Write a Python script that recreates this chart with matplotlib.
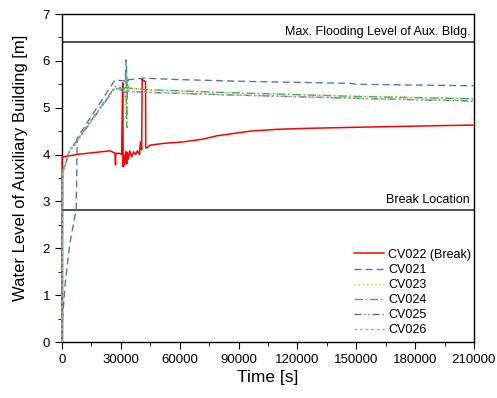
import matplotlib
matplotlib.use("Agg")
import matplotlib.pyplot as plt
from matplotlib.ticker import MultipleLocator

plt.rcParams['font.family'] = ['Liberation Sans', 'DejaVu Sans']

# ---- data ----
t_cv022 = [0, 100, 3000, 9000, 24500, 27000, 27300, 27400, 28500, 30400, 30900, 31000,
           31200, 31400, 32000, 32500, 33000, 33300, 33800, 34500, 35500, 36500, 37500,
           38500, 39500, 40000, 40600, 40900, 41000, 42600, 42700, 43800, 44800, 52000,
           61700, 71900, 78900, 95800, 110000, 125000, 147000, 171000, 196000, 210000]
v_cv022 = [0, 3.95, 3.97, 4.01, 4.08, 4.03, 3.78, 4.02, 4.03, 4.01, 5.53, 5.53,
           3.74, 4.0, 3.78, 4.07, 3.8, 4.05, 3.9, 4.08, 3.95, 4.06, 4.0,
           4.08, 4.0, 4.27, 4.1, 5.63, 5.6, 5.55, 4.14, 4.16, 4.2, 4.24,
           4.27, 4.33, 4.40, 4.50, 4.54, 4.56, 4.58, 4.60, 4.62, 4.63]

t_cv021 = [0, 300, 1500, 4000, 7200, 7500, 7700, 27000, 32200, 32700, 33200, 34000,
           42000, 60000, 96000, 147000, 150000, 206000, 210000]
v_cv021 = [0, 0.5, 1.2, 2.1, 2.82, 3.5, 4.35, 5.59, 5.57, 6.02, 5.5, 5.6,
           5.63, 5.6, 5.56, 5.52, 5.50, 5.47, 5.47]

t_cv023 = [0, 300, 4000, 7600, 27000, 32000, 32600, 33000, 33400, 34000, 42000, 80000, 150000, 210000]
v_cv023 = [0, 3.6, 4.1, 4.3, 5.45, 5.4, 4.8, 5.55, 5.3, 5.42, 5.38, 5.32, 5.25, 5.2]

t_cv024 = [0, 300, 4000, 7600, 27000, 32000, 32700, 33000, 33300, 34000, 42000, 80000, 150000, 210000]
v_cv024 = [0, 3.65, 4.1, 4.3, 5.45, 5.4, 5.76, 4.57, 5.5, 5.42, 5.39, 5.33, 5.24, 5.19]

t_cv025 = [0, 300, 4000, 7600, 27000, 32000, 32800, 33300, 34000, 42000, 80000, 150000, 210000]
v_cv025 = [0, 3.6, 4.08, 4.28, 5.42, 5.35, 5.2, 5.4, 5.35, 5.33, 5.28, 5.2, 5.14]

t_cv026 = [0, 300, 4000, 7600, 27000, 32000, 32800, 33300, 34000, 42000, 80000, 150000, 210000]
v_cv026 = [0, 3.6, 4.08, 4.28, 5.42, 5.35, 5.25, 5.42, 5.35, 5.33, 5.28, 5.2, 5.15]

max_flood_level = 6.40
break_level = 2.82

fig = plt.figure(figsize=(4.97, 3.98), dpi=100)
ax = fig.add_axes([0.1247, 0.1407, 0.829, 0.8241])

kw = dict(clip_on=False, zorder=3)
ax.plot(t_cv022, v_cv022, color='#ff0000', lw=1.1, label='CV022 (Break)', **kw)
ax.plot(t_cv021, v_cv021, color='#4f79b5', lw=1.0, ls=(0, (5, 3)), label='CV021', **kw)
ax.plot(t_cv023, v_cv023, color='#f5bf1a', lw=1.0, ls=(0, (1, 2)), label='CV023', **kw)
ax.plot(t_cv024, v_cv024, color='#3cb85a', lw=1.0, ls=(0, (6, 2, 1, 2)), label='CV024', **kw)
ax.plot(t_cv025, v_cv025, color='#6a6aaa', lw=1.0, ls=(0, (5, 2, 1, 2, 1, 2)), label='CV025', **kw)
ax.plot(t_cv026, v_cv026, color='#aaaaaa', lw=1.0, ls=(0, (2, 2)), label='CV026', **kw)

ax.axhline(max_flood_level, color='#333333', lw=1.2)
ax.axhline(break_level, color='#333333', lw=1.2)
ax.text(208000, max_flood_level + 0.08, 'Max. Flooding Level of Aux. Bldg.',
        ha='right', va='bottom', fontsize=9)
ax.text(208000, break_level + 0.08, 'Break Location', ha='right', va='bottom', fontsize=9)

ax.set_xlim(0, 210000)
ax.set_ylim(0, 7)
ax.xaxis.set_major_locator(MultipleLocator(30000))
ax.xaxis.set_minor_locator(MultipleLocator(15000))
ax.yaxis.set_major_locator(MultipleLocator(1))
ax.yaxis.set_minor_locator(MultipleLocator(0.5))
ax.tick_params(which='both', direction='out', labelsize=9.5, top=False, right=False)
ax.tick_params(which='major', length=5)
ax.tick_params(which='minor', length=3)
for s in ax.spines.values():
    s.set_linewidth(1.0)

ax.set_xlabel('Time [s]', fontsize=12.5, labelpad=3)
ax.set_ylabel('Water Level of Auxiliary Building [m]', fontsize=12)
ax.yaxis.set_label_coords(-0.083, 0.53)

ax.legend(loc='lower right', frameon=False, fontsize=9, handlelength=2.4,
          labelspacing=0.25, handletextpad=0.3, borderaxespad=0.05,
          bbox_to_anchor=(1.007, 0.0))

fig.savefig('out.png', dpi=100)
